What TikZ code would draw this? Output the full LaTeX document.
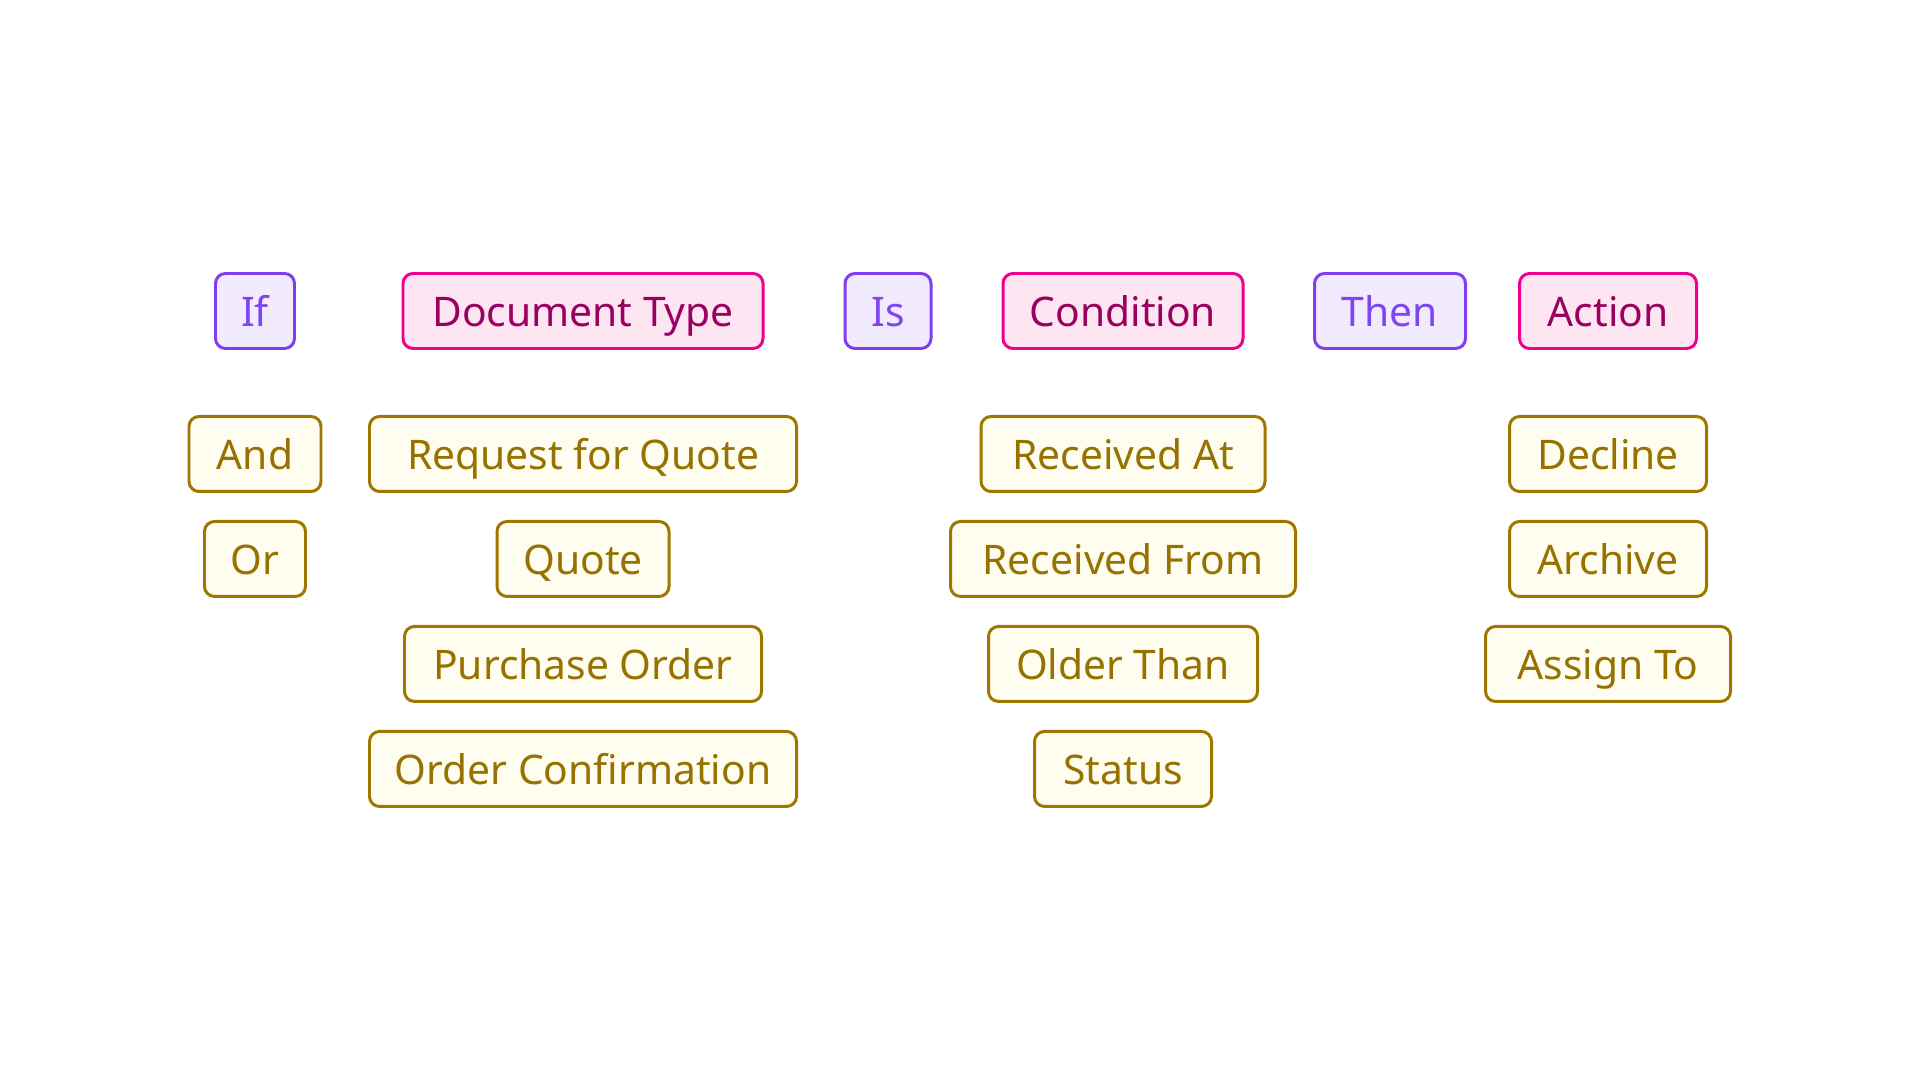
\documentclass[tikz,border=0pt]{standalone}
\usepackage{fontspec}
\setmainfont{Noto Sans}
\usetikzlibrary{positioning}

\definecolor{kwline}{HTML}{7F3FF0}
\definecolor{kwfill}{HTML}{F2EAFE}
\definecolor{kwtext}{HTML}{7E45F0}
\definecolor{slotline}{HTML}{F0008E}
\definecolor{slotfill}{HTML}{FDE6F2}
\definecolor{slottext}{HTML}{990060}
\definecolor{choiceline}{HTML}{9E7700}
\definecolor{choicefill}{HTML}{FFFDF0}
\definecolor{choicetext}{HTML}{967200}

\begin{document}
\begin{tikzpicture}
		\tikzset {node distance=0.27cm, every node/.style={rounded corners=0.1cm, line width=0.85pt, minimum height=0.75cm, inner sep=0pt, text height=1.0em, text depth=0.09em, font=\fontsize{11.6}{14}\selectfont},
			kw/.style={draw=kwline, fill=kwfill, text=kwtext},
			slot/.style={draw=slotline, fill=slotfill, text=slottext},
			choice/.style={draw=choiceline, fill=choicefill, text=choicetext} }

		\useasboundingbox (0,0) rectangle (19.2,-10.8);

		% top row
		\node[kw, minimum width=0.79cm] (if) at (2.55,-3.11) {If};
		\node[slot, minimum width=3.6cm] (doctype) at (5.83,-3.11) {Document Type};
		\node[kw, minimum width=0.86cm] (is) at (8.88,-3.11) {Is};
		\node[slot, minimum width=2.4cm] (cond) at (11.23,-3.11) {Condition};
		\node[kw, minimum width=1.51cm] (then) at (13.9,-3.11) {Then};
		\node[slot, minimum width=1.77cm] (action) at (16.08,-3.11) {Action};

		% choices under each slot
		\node[choice, minimum width=1.32cm, below=0.65cm of if] (and) {And};
		\node[choice, minimum width=1.01cm, below=of and] (or) {Or};

		\node[choice, minimum width=4.27cm, below=0.65cm of doctype] (rfq) {Request for Quote};
		\node[choice, minimum width=1.72cm, below=of rfq] (quote) {Quote};
		\node[choice, minimum width=3.57cm, below=of quote] (po) {Purchase Order};
		\node[choice, minimum width=4.27cm, below=of po] (oc) {Order Confirmation};

		\node[choice, minimum width=2.84cm, below=0.65cm of cond] (recat) {Received At};
		\node[choice, minimum width=3.45cm, below=of recat] (recfrom) {Received From};
		\node[choice, minimum width=2.69cm, below=of recfrom] (older) {Older Than};
		\node[choice, minimum width=1.77cm, below=of older] (status) {Status};

		\node[choice, minimum width=1.97cm, below=0.65cm of action] (decline) {Decline};
		\node[choice, minimum width=1.97cm, below=of decline] (archive) {Archive};
		\node[choice, minimum width=2.45cm, below=of archive] (assign) {Assign To};
	\end{tikzpicture}
\end{document}
